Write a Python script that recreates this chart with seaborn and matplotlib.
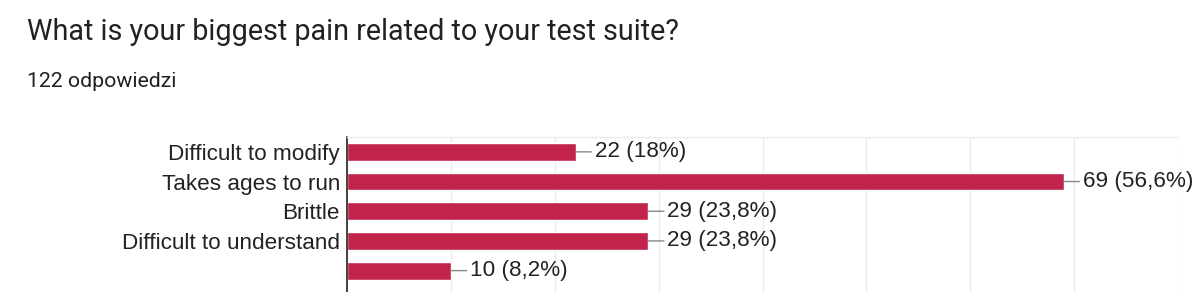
import matplotlib
matplotlib.use("Agg")
import matplotlib.pyplot as plt
import seaborn as sns
import pandas as pd

title = "What is your biggest pain related to your test suite?"
subtitle = "122 odpowiedzi"
categories = ["Difficult to modify", "Takes ages to run", "Brittle",
              "Difficult to understand", ""]
counts = [22, 69, 29, 29, 10]
pct_labels = ["18%", "56,6%", "23,8%", "23,8%", "8,2%"]
xticks = [0, 10, 20, 30, 40, 50, 60, 70, 80]

sns.set_theme(style="white")
plt.rcParams["font.family"] = ["Liberation Sans", "DejaVu Sans"]

df = pd.DataFrame({"cat": categories, "n": counts})

fig = plt.figure(figsize=(12, 2.92), dpi=100)
ax = fig.add_axes([347 / 1200, 0.0, (1178 - 347) / 1200, 1 - 137 / 292])

sns.barplot(data=df, y="cat", x="n", orient="h", color="#C2234A",
            saturation=1, width=0.6, ax=ax, order=categories)

ax.set_xlim(xticks[0], xticks[-1])
ax.set_ylim(4.72, -0.5)
ax.set_xticks(xticks)
ax.xaxis.grid(True, color="#EBEBEB", lw=1)
ax.set_axisbelow(True)
ax.tick_params(axis="x", bottom=False, labelbottom=False)
ax.tick_params(axis="y", left=False, length=0, pad=5, labelsize=16.2,
               labelcolor="#222222")
ax.set_xlabel("")
ax.set_ylabel("")
for s in ["right", "bottom"]:
    ax.spines[s].set_visible(False)
ax.spines["top"].set_color("#EBEBEB")
ax.spines["top"].set_linewidth(1)
ax.spines["left"].set_color("#222222")
ax.spines["left"].set_linewidth(1.2)

for i, (v, p) in enumerate(zip(counts, pct_labels)):
    ax.annotate(f"{v} ({p})", xy=(v, i), xytext=(19, 0),
                textcoords="offset pixels", va="center", ha="left",
                fontsize=16.2, color="#222222",
                arrowprops=dict(arrowstyle="-", color="#888888", lw=1,
                                shrinkA=0, shrinkB=0))

fig.text(27 / 1200, 1 - 39.5 / 292, title, family="Roboto", fontsize=20.7,
         color="#202124", va="baseline", ha="left")
fig.text(27 / 1200, 1 - 87.5 / 292, subtitle, family="Roboto", fontsize=15.3,
         color="#202124", va="baseline", ha="left")

fig.savefig("out.png", dpi=100, facecolor="white")
